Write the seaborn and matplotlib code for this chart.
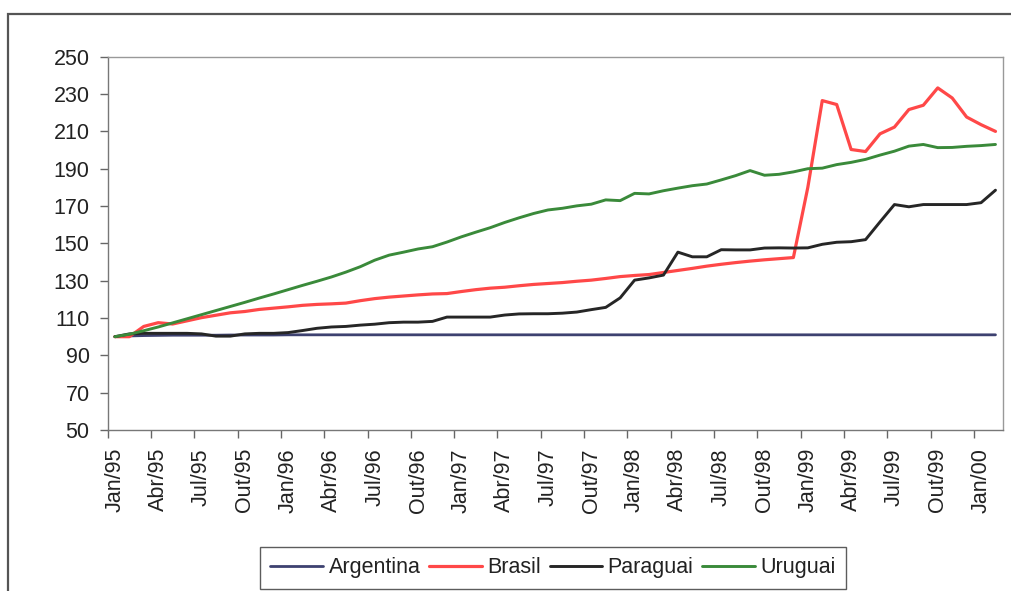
import matplotlib
matplotlib.use("Agg")
import matplotlib.pyplot as plt
from matplotlib.patches import Rectangle
import numpy as np
import pandas as pd
import seaborn as sns

# Monthly index, Jan/95 = 100 (Jan/95 .. Feb/00)
month_names = ["Jan", "Fev", "Mar", "Abr", "Mai", "Jun",
               "Jul", "Ago", "Set", "Out", "Nov", "Dez"]
years = ["95", "96", "97", "98", "99", "00"]
months = [f"{m}/{y}" for y in years for m in month_names][:62]

argentina = [100.0, 100.4, 100.6, 100.7, 100.8, 100.8, 100.8, 100.8, 100.9, 100.9,
             100.9, 100.9, 101.0, 101.0, 101.0, 101.0, 101.0, 101.0, 101.0, 101.0,
             101.0, 101.0, 101.0, 101.0, 101.0, 101.0, 101.0, 101.0, 101.0, 101.0,
             101.0, 101.0, 101.0, 101.0, 101.0, 101.0, 101.0, 101.0, 101.0, 101.0,
             101.0, 101.0, 101.0, 101.0, 101.0, 101.0, 101.0, 101.0, 101.0, 101.0,
             101.0, 101.0, 101.0, 101.0, 101.0, 101.0, 101.0, 101.0, 101.0, 101.0,
             101.0, 101.0]

brasil = [100.0, 100.0, 105.5, 107.5, 106.8, 108.5, 110.2, 111.5, 112.8, 113.5,
          114.6, 115.3, 116.0, 116.8, 117.3, 117.6, 118.0, 119.3, 120.4, 121.2,
          121.8, 122.4, 122.9, 123.1, 124.2, 125.2, 126.0, 126.5, 127.3, 128.0,
          128.5, 129.0, 129.7, 130.3, 131.2, 132.2, 132.8, 133.3, 134.4, 135.5,
          136.6, 137.8, 138.8, 139.7, 140.5, 141.2, 141.8, 142.4, 180.0, 226.5,
          224.4, 200.3, 199.2, 208.7, 212.3, 221.7, 224.0, 233.3, 227.9, 217.7,
          213.6, 210.0]

paraguai = [100.0, 101.5, 101.8, 101.8, 101.8, 101.8, 101.5, 100.3, 100.3, 101.5,
            101.8, 101.8, 102.2, 103.3, 104.5, 105.2, 105.5, 106.2, 106.7, 107.5,
            107.8, 107.8, 108.2, 110.5, 110.5, 110.5, 110.5, 111.6, 112.2, 112.3,
            112.3, 112.6, 113.2, 114.5, 115.7, 120.8, 130.3, 131.5, 133.0, 145.3,
            142.8, 142.8, 146.6, 146.5, 146.5, 147.5, 147.6, 147.5, 147.6, 149.5,
            150.6, 150.9, 152.0, 161.5, 170.8, 169.6, 170.8, 170.8, 170.8, 170.8,
            171.8, 178.5]

uruguai = [100.0, 101.3, 103.2, 105.2, 107.4, 109.6, 111.8, 114.0, 116.2, 118.4,
           120.7, 122.9, 125.2, 127.5, 129.7, 132.0, 134.6, 137.5, 141.0, 143.7,
           145.3, 147.0, 148.2, 150.7, 153.5, 156.0, 158.4, 161.2, 163.7, 166.0,
           167.9, 168.8, 170.1, 171.0, 173.3, 172.9, 176.8, 176.5, 178.2, 179.6,
           180.9, 181.8, 184.0, 186.3, 189.0, 186.5, 187.0, 188.3, 190.0, 190.3,
           192.2, 193.4, 195.0, 197.3, 199.4, 202.1, 203.0, 201.3, 201.4, 202.0,
           202.4, 203.0]

countries = ["Argentina", "Brasil", "Paraguai", "Uruguai"]
series = [argentina, brasil, paraguai, uruguai]
colors = {"Argentina": "#3d4170", "Brasil": "#ff4848",
          "Paraguai": "#262626", "Uruguai": "#3a8a3a"}
widths = {"Argentina": 2.0, "Brasil": 2.3, "Paraguai": 2.1, "Uruguai": 2.1}

y_ticks = [50, 70, 90, 110, 130, 150, 170, 190, 210, 230, 250]

sns.set_style("white")
plt.rcParams["font.family"] = ["Liberation Sans", "DejaVu Sans"]
text_color = "#222222"

fig = plt.figure(figsize=(10.11, 5.91), dpi=100)
ax = fig.add_axes([0.1065, 0.2724, 0.8853, 0.6316])

x = np.arange(len(months))
for name, vals in zip(countries, series):
    df = pd.DataFrame({"mes": x, "indice": vals})
    sns.lineplot(data=df, x="mes", y="indice", color=colors[name],
                 linewidth=widths[name], label=name, legend=False, ax=ax)

ax.set_xlim(-0.5, len(months) - 0.5)
ax.set_ylim(50, 250)
ax.set_yticks(y_ticks)
ax.set_yticklabels([str(v) for v in y_ticks])

# quarterly labels centred on their month, tick marks on month boundaries
label_pos = x[::3]
ax.set_xticks(label_pos)
ax.set_xticklabels([months[i] for i in label_pos], rotation=90,
                   ha="center", va="top")
ax.set_xticks(np.arange(-0.5, len(months), 3), minor=True)
ax.tick_params(axis="x", which="major", length=0, pad=13,
               labelsize=15.5, labelcolor=text_color)
ax.tick_params(axis="x", which="minor", length=6, width=1,
               color="#666666", direction="out", bottom=True)
ax.tick_params(axis="y", which="major", length=6, width=1,
               color="#666666", direction="out", left=True, pad=7,
               labelsize=15.5, labelcolor=text_color)

ax.set_xlabel("")
ax.set_ylabel("")
for side, sp in ax.spines.items():
    sp.set_visible(True)
    sp.set_linewidth(1.0)
    sp.set_color("#777777" if side in ("left", "bottom") else "#999999")

handles, labels = ax.get_legend_handles_labels()
leg = fig.legend(handles, labels, loc="center", ncol=4,
                 bbox_to_anchor=(0.547, 0.039), frameon=True, fancybox=False,
                 fontsize=15.5, handlelength=2.45, handletextpad=0.25,
                 columnspacing=0.4, borderpad=0.5, labelcolor=text_color)
leg.get_frame().set_edgecolor("#333333")
leg.get_frame().set_linewidth(1.0)

# chart-area border running off the right and bottom edges
fig.patches.append(Rectangle((8 / 1011, -0.2), 1.2, 1.2 - 14 / 591,
                             transform=fig.transFigure, fill=False,
                             edgecolor="#555555", linewidth=1.6))

fig.savefig("out.png", dpi=100)
